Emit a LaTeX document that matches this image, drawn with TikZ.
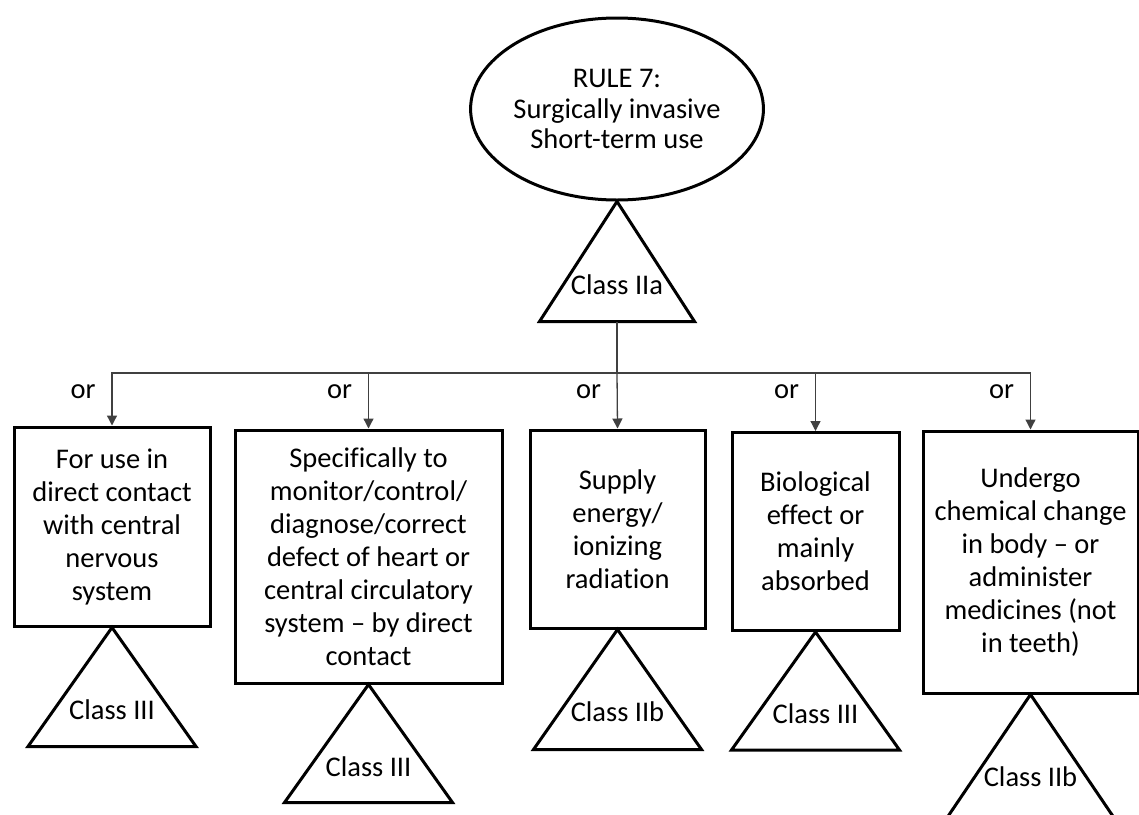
\documentclass[tikz,border=0pt]{standalone}
\usepackage{fontspec}
\setmainfont{Carlito}[Ligatures=NoCommon]
\usetikzlibrary{arrows.meta,shapes.geometric,calc}

\tikzset{
  box/.style={draw, line width=3pt, rectangle, align=center, inner sep=0pt,
              font=\fontsize{28.5}{33}\selectfont},
  rule/.style={draw, line width=3pt, ellipse, align=center, inner sep=0pt,
               font=\fontsize{28.5}{30.5}\selectfont},
  tri/.style={draw, line width=3pt, line join=miter},
  cls/.style={inner sep=0pt, font=\fontsize{28.5}{33}\selectfont},
  orlbl/.style={inner sep=0pt, anchor=base, font=\fontsize{28.5}{33}\selectfont},
  conn/.style={draw=black!75, line width=1.3pt},
  arr/.style={conn, -{Triangle[length=10pt,width=10pt]}},
}

\begin{document}
\begin{tikzpicture}[x=1pt,y=-1pt]
\useasboundingbox (0,0) rectangle (1139,814);
\clip (0,0) rectangle (1139,814);

% top rule and its class
\node[rule, minimum width=275pt, minimum height=182pt] (rule) at (617,109)
  {RULE 7:\\Surgically invasive\\Short-term use};
\draw[tri] (rule.south) -- ++(77.5,120) -- ++(-155,0) -- cycle;
\coordinate (t0b) at ($(rule.south)+(0,120)$);
\node[cls] (c0) at ($(rule.south)+(0,83)$) {Class IIa};

% criteria boxes
\node[box, minimum width=196pt, minimum height=199pt] (b1) at (112,526.5)
  {For use in\\direct contact\\with central\\nervous\\system};
\node[box, minimum width=267pt, minimum height=253pt] (b2) at (368.5,556.5)
  {Specifically to\\monitor/control/\\diagnose/correct\\defect of heart or\\central circulatory\\system – by direct\\contact};
\node[box, minimum width=175pt, minimum height=198pt] (b3) at (617.5,529)
  {Supply\\energy/\\ionizing\\radiation};
\node[box, minimum width=167pt, minimum height=198pt] (b4) at (815.5,531.5)
  {Biological\\effect or\\mainly\\absorbed};
\node[box, minimum width=215pt, minimum height=262pt] (b5) at (1030.5,562)
  {Undergo\\chemical change\\in body – or\\administer\\medicines (not\\in teeth)};

% class triangles under the boxes
\foreach \b/\c/\h in {b1/Class III/119, b2/Class III/118, b3/Class IIb/120,
                      b4/Class III/118, b5/Class IIb/124}{
  \draw[tri] (\b.south) -- ++(84,\h) -- ++(-168,0) -- cycle;
  \node[cls] (cls-\b) at ($(\b.south)+(0,82)$) {\c};
}

% connectors
\coordinate (bus) at (617,373);
\draw[conn] (t0b) -- (bus);
\draw[arr] (bus) -| (b1.north);
\draw[arr] (bus) -| (b2.north);
\draw[arr] (bus) -- (b3.north);
\draw[arr] (bus) -| (b4.north);
\draw[arr] (bus) -| (b5.north);

% "or" labels beside each arrow
\foreach \b in {b1,b2,b3,b4,b5}{
  \path (\b.north) ++(-29,0) coordinate (orx-\b);
  \node[orlbl] (or-\b) at (orx-\b |- 0,398) {or};
}
\end{tikzpicture}
\end{document}
